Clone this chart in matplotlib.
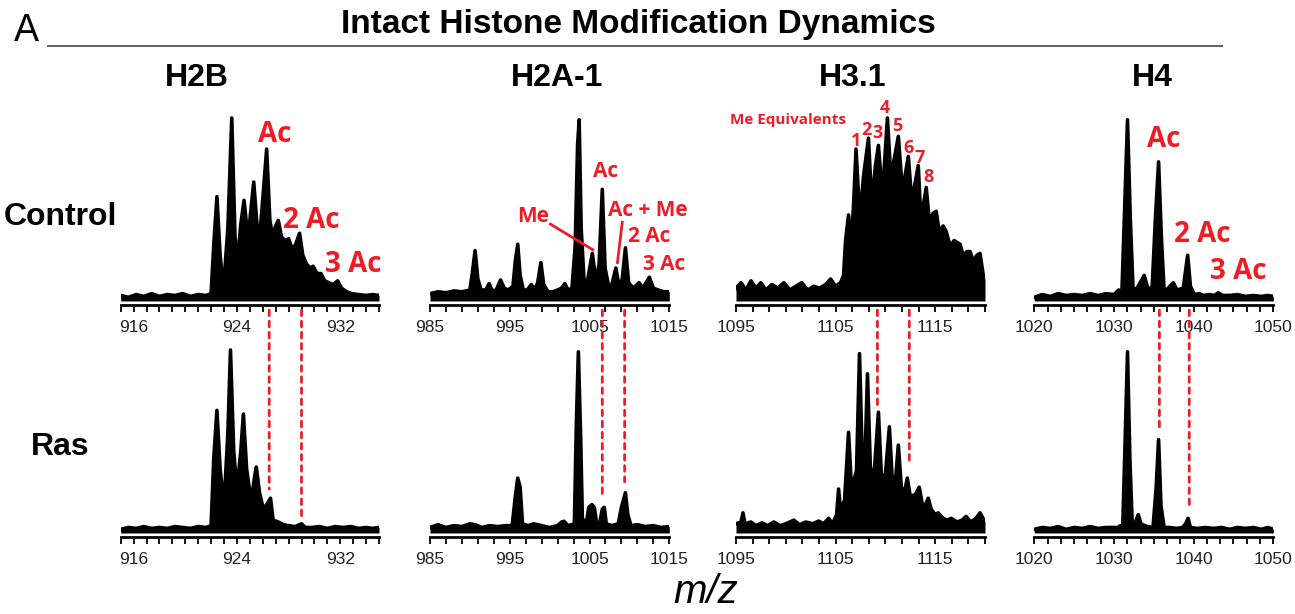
import numpy as np
import matplotlib.pyplot as plt
from matplotlib.patches import ConnectionPatch

# spectra: (m/z, relative intensity) vertices
h2b_ctrl_mz = [915.0, 915.6, 916.2, 916.8, 917.4, 918.0, 918.6, 919.2, 919.8, 920.4, 921.0, 921.6,
               922.0, 922.2, 922.45, 922.7, 922.95, 923.3, 923.6, 923.85, 924.05, 924.3, 924.55,
               924.8, 925.0, 925.3, 925.55, 925.75, 926.05, 926.3, 926.55, 926.75, 927.0, 927.2,
               927.45, 927.75, 928.0, 928.3, 928.55, 928.85, 929.1, 929.4, 929.7, 929.9, 930.2,
               930.5, 930.8, 931.1, 931.45, 931.8, 932.1, 932.5, 932.9, 933.4, 934.0, 934.5, 935.0]
h2b_ctrl_int = [0.03, 0.02, 0.035, 0.025, 0.04, 0.025, 0.035, 0.03, 0.04, 0.025, 0.035, 0.03,
                0.04, 0.30, 0.57, 0.25, 0.06, 0.40, 1.00, 0.35, 0.22, 0.42, 0.55,
                0.38, 0.44, 0.65, 0.42, 0.34, 0.60, 0.83, 0.44, 0.36, 0.41, 0.44,
                0.35, 0.33, 0.34, 0.28, 0.31, 0.37, 0.25, 0.20, 0.18, 0.19, 0.15,
                0.15, 0.11, 0.10, 0.09, 0.11, 0.07, 0.05, 0.04, 0.035, 0.03, 0.035, 0.03]

h2b_ras_mz = [915.0, 915.6, 916.2, 916.8, 917.4, 918.0, 918.6, 919.2, 919.8, 920.4, 921.0, 921.6,
              922.0, 922.2, 922.45, 922.7, 923.0, 923.3, 923.5, 923.75, 924.0, 924.3, 924.5,
              924.75, 925.1, 925.35, 925.5, 925.75, 926.05, 926.35, 926.6, 926.8, 927.2, 927.6,
              928.0, 928.5, 929.0, 929.3, 929.8, 930.4, 931.0, 931.6, 932.2, 932.8, 933.4,
              934.0, 934.5, 935.0]
h2b_ras_int = [0.02, 0.03, 0.025, 0.035, 0.025, 0.03, 0.025, 0.035, 0.03, 0.025, 0.035, 0.03,
               0.04, 0.40, 0.67, 0.35, 0.15, 0.55, 1.00, 0.45, 0.23, 0.45, 0.65,
               0.35, 0.17, 0.30, 0.36, 0.22, 0.13, 0.16, 0.19, 0.07, 0.06, 0.045,
               0.04, 0.035, 0.05, 0.03, 0.03, 0.035, 0.025, 0.035, 0.03, 0.035, 0.025,
               0.03, 0.025, 0.03]

h2a_ctrl_mz = [985.0, 986.0, 987.0, 988.0, 989.0, 990.0, 990.3, 990.65, 991.0, 991.4, 992.0, 992.4,
               992.8, 993.3, 993.85, 994.3, 994.8, 995.4, 995.7, 996.0, 996.3, 996.7, 997.2,
               997.7, 998.1, 998.5, 998.9, 999.25, 999.8, 1000.4, 1001.0, 1001.5, 1001.9, 1002.3,
               1002.8, 1003.2, 1003.5, 1003.7, 1003.95, 1004.3, 1004.7, 1005.35, 1005.8, 1006.2,
               1006.6, 1006.95, 1007.4, 1007.8, 1008.3, 1008.7, 1009.1, 1009.5, 1009.9, 1010.5,
               1011.2, 1011.7, 1012.5, 1013.0, 1013.6, 1014.3, 1015.0]
h2a_ctrl_int = [0.04, 0.05, 0.045, 0.055, 0.05, 0.06, 0.15, 0.275, 0.12, 0.06, 0.06, 0.095,
                0.055, 0.06, 0.115, 0.07, 0.06, 0.08, 0.22, 0.31, 0.14, 0.06, 0.06,
                0.09, 0.06, 0.10, 0.21, 0.09, 0.05, 0.05, 0.06, 0.07, 0.095, 0.06,
                0.07, 0.30, 0.85, 0.99, 0.40, 0.12, 0.10, 0.26, 0.11, 0.20,
                0.61, 0.18, 0.08, 0.09, 0.18, 0.08, 0.12, 0.29, 0.10, 0.07,
                0.10, 0.07, 0.13, 0.07, 0.06, 0.05, 0.05]

h2a_ras_mz = [985.0, 986.0, 987.0, 988.0, 989.0, 990.0, 990.7, 991.5, 992.5, 993.5, 994.5, 995.3,
              995.7, 996.0, 996.3, 996.6, 997.3, 998.0, 999.0, 1000.0, 1001.0, 1001.5, 1001.8,
              1002.3, 1003.1, 1003.35, 1003.6, 1003.9, 1004.1, 1004.6, 1004.9, 1005.3, 1005.6,
              1005.9, 1006.3, 1006.6, 1006.85, 1007.1, 1007.8, 1008.6, 1009.0, 1009.5, 1009.8,
              1010.2, 1011.0, 1012.0, 1013.0, 1014.0, 1015.0]
h2a_ras_int = [0.03, 0.045, 0.03, 0.04, 0.035, 0.05, 0.045, 0.03, 0.04, 0.035, 0.04, 0.04,
               0.20, 0.30, 0.25, 0.05, 0.04, 0.05, 0.04, 0.03, 0.04, 0.06, 0.064,
               0.04, 0.05, 0.60, 0.99, 0.50, 0.08, 0.05, 0.14, 0.155, 0.14,
               0.05, 0.06, 0.13, 0.14, 0.05, 0.04, 0.05, 0.14, 0.22, 0.10,
               0.04, 0.045, 0.035, 0.04, 0.03, 0.035]

h31_ctrl_mz = [1095.0, 1095.5, 1096.0, 1096.5, 1097.0, 1097.5, 1098.0, 1098.6, 1099.2, 1099.8,
               1100.4, 1101.0, 1101.6, 1102.2, 1102.8, 1103.4, 1104.0, 1104.5, 1105.0, 1105.5,
               1105.8, 1106.0, 1106.3, 1106.55, 1106.8, 1107.05, 1107.3, 1107.55, 1107.8, 1108.3,
               1108.55, 1108.8, 1109.0, 1109.3, 1109.6, 1109.85, 1110.2, 1110.5, 1110.8, 1111.3,
               1111.6, 1111.9, 1112.3, 1112.6, 1112.9, 1113.3, 1113.55, 1113.8, 1114.1, 1114.4,
               1114.8, 1115.1, 1115.4, 1115.8, 1116.1, 1116.5, 1116.9, 1117.5, 1117.8, 1118.2,
               1118.5, 1118.8, 1119.2, 1119.5, 1119.8, 1120.0]
h31_ctrl_int = [0.07, 0.10, 0.06, 0.11, 0.07, 0.10, 0.06, 0.09, 0.07, 0.10,
                0.06, 0.08, 0.10, 0.06, 0.08, 0.07, 0.09, 0.12, 0.08, 0.10,
                0.14, 0.33, 0.47, 0.30, 0.52, 0.83, 0.58, 0.52, 0.68, 0.89,
                0.62, 0.62, 0.74, 0.85, 0.64, 0.70, 1.00, 0.72, 0.75, 0.90,
                0.68, 0.66, 0.79, 0.58, 0.62, 0.74, 0.46, 0.52, 0.62, 0.44,
                0.48, 0.49, 0.38, 0.41, 0.38, 0.30, 0.33, 0.31, 0.25, 0.27,
                0.27, 0.22, 0.25, 0.26, 0.15, 0.12]

h31_ras_mz = [1095.0, 1095.5, 1095.7, 1095.9, 1096.5, 1097.0, 1097.6, 1098.2, 1098.8, 1099.4,
              1100.0, 1100.8, 1101.4, 1102.0, 1102.7, 1103.3, 1103.8, 1104.3, 1104.7, 1105.1,
              1105.3, 1105.5, 1105.9, 1106.3, 1106.6, 1107.1, 1107.4, 1107.7, 1107.95, 1108.2,
              1108.5, 1108.9, 1109.3, 1109.6, 1110.0, 1110.4, 1110.7, 1111.0, 1111.3, 1111.6,
              1111.9, 1112.2, 1112.5, 1113.0, 1113.4, 1113.7, 1114.0, 1114.3, 1114.6, 1115.0,
              1115.3, 1115.8, 1116.2, 1116.6, 1117.2, 1117.7, 1118.1, 1118.6, 1119.1, 1119.5,
              1120.0]
h31_ras_int = [0.05, 0.06, 0.11, 0.05, 0.06, 0.04, 0.055, 0.04, 0.06, 0.04,
               0.05, 0.07, 0.045, 0.06, 0.05, 0.065, 0.05, 0.08, 0.05, 0.10,
               0.24, 0.12, 0.18, 0.55, 0.24, 0.34, 0.98, 0.36, 0.40, 0.87,
               0.34, 0.35, 0.66, 0.31, 0.32, 0.58, 0.28, 0.28, 0.48, 0.25,
               0.22, 0.30, 0.20, 0.21, 0.25, 0.16, 0.15, 0.19, 0.13, 0.10,
               0.11, 0.08, 0.07, 0.08, 0.06, 0.07, 0.09, 0.06, 0.08, 0.11,
               0.06]

h4_ctrl_mz = [1020.0, 1021.0, 1022.0, 1023.0, 1024.0, 1025.0, 1026.0, 1027.0, 1028.0, 1029.0,
              1030.0, 1030.6, 1031.0, 1031.3, 1031.7, 1032.05, 1032.4, 1032.9, 1033.8, 1034.3,
              1034.8, 1035.2, 1035.6, 1035.95, 1036.3, 1036.8, 1037.45, 1037.9, 1038.7, 1039.25,
              1039.6, 1040.1, 1040.7, 1041.2, 1042.0, 1042.6, 1043.1, 1043.6, 1044.5, 1045.5,
              1046.5, 1047.5, 1048.5, 1049.3, 1050.0]
h4_ctrl_int = [0.02, 0.035, 0.025, 0.04, 0.03, 0.035, 0.03, 0.04, 0.03, 0.04,
               0.035, 0.06, 0.05, 0.45, 0.99, 0.45, 0.06, 0.07, 0.14, 0.06,
               0.08, 0.45, 0.76, 0.35, 0.05, 0.07, 0.10, 0.06, 0.07, 0.25,
               0.08, 0.035, 0.04, 0.03, 0.035, 0.03, 0.045, 0.03, 0.03, 0.035,
               0.025, 0.03, 0.025, 0.03, 0.025]

h4_ras_mz = [1020.0, 1021.0, 1022.0, 1023.0, 1024.0, 1025.0, 1026.0, 1027.0, 1028.0, 1029.0,
             1030.0, 1030.5, 1030.8, 1031.1, 1031.4, 1031.7, 1032.0, 1032.3, 1032.7, 1033.05,
             1033.4, 1034.1, 1034.9, 1035.3, 1035.6, 1035.9, 1036.3, 1037.0, 1037.8, 1038.6,
             1039.0, 1039.3, 1039.6, 1040.5, 1041.5, 1042.5, 1043.5, 1044.5, 1045.5, 1046.5,
             1047.5, 1048.5, 1049.3, 1050.0]
h4_ras_int = [0.02, 0.03, 0.025, 0.035, 0.02, 0.03, 0.025, 0.035, 0.025, 0.03,
              0.03, 0.03, 0.04, 0.03, 0.50, 0.99, 0.40, 0.04, 0.06, 0.10,
              0.05, 0.036, 0.03, 0.25, 0.51, 0.15, 0.03, 0.03, 0.025, 0.03,
              0.05, 0.08, 0.03, 0.025, 0.03, 0.025, 0.03, 0.02, 0.03, 0.025,
              0.03, 0.02, 0.03, 0.02]

histones = ['H2B', 'H2A-1', 'H3.1', 'H4']
conditions = ['Control', 'Ras']
xlims = [(915, 935), (985, 1015), (1095, 1120), (1020, 1050)]
tick_labels = [[916, 924, 932], [985, 995, 1005, 1015], [1095, 1105, 1115], [1020, 1030, 1040, 1050]]
minor_step = [1.0, 2.0, 5 / 3, 5 / 3]
spectra = [
    [(h2b_ctrl_mz, h2b_ctrl_int), (h2b_ras_mz, h2b_ras_int)],
    [(h2a_ctrl_mz, h2a_ctrl_int), (h2a_ras_mz, h2a_ras_int)],
    [(h31_ctrl_mz, h31_ctrl_int), (h31_ras_mz, h31_ras_int)],
    [(h4_ctrl_mz, h4_ctrl_int), (h4_ras_mz, h4_ras_int)],
]
# dashed guides: m/z and where they stop on the Ras trace
guide_mz = [[926.5, 929.0], [1006.6, 1009.4], [1109.2, 1112.4], [1035.7, 1039.45]]
guide_end = [[0.24, 0.065], [0.20, 0.28], [0.70, 0.37], [0.57, 0.13]]

RED = '#ee1c25'
W, H = 1295, 614

plt.rcParams['font.family'] = ['Liberation Sans', 'DejaVu Sans']

fig = plt.figure(figsize=(W / 100, H / 100), dpi=100)

def px(x, y):
    return x / W, 1 - y / H

# axes boxes in pixels: left, width ; rows: top, bottom
col_px = [(120.7, 258.3), (430, 239.3), (736, 249), (1034.3, 239)]
row_px = [(99.7, 305), (331.7, 537)]

axes = [[None] * 4 for _ in range(2)]
for r in range(2):
    for c in range(4):
        l, w = col_px[c]
        t, b = row_px[r]
        ax = fig.add_axes([l / W, 1 - b / H, w / W, (b - t) / H])
        mz, inten = spectra[c][r]
        ax.fill_between(mz, inten, 0, color='black', lw=0)
        ax.plot(mz, inten, color='black', lw=2.6, solid_joinstyle='round')
        ax.set_xlim(*xlims[c])
        ax.set_ylim(-0.022, 1.1)
        for s in ['top', 'right', 'left']:
            ax.spines[s].set_visible(False)
        ax.spines['bottom'].set_linewidth(2)
        ax.set_yticks([])
        ax.set_xticks(tick_labels[c])
        ax.set_xticklabels([str(v) for v in tick_labels[c]], fontsize=12.5, color='#222222')
        ax.set_xticks(np.arange(xlims[c][0], xlims[c][1] + 0.01, minor_step[c]), minor=True)
        ax.tick_params(axis='x', which='both', length=5, width=1.3, direction='out', pad=6)
        ax.patch.set_alpha(0)
        axes[r][c] = ax

# dashed red guides between the two rows
for c in range(4):
    for m, e in zip(guide_mz[c], guide_end[c]):
        con = ConnectionPatch(xyA=(m, -0.05), coordsA=axes[0][c].transData,
                              xyB=(m, e), coordsB=axes[1][c].transData,
                              color=RED, lw=2, linestyle=(0, (2, 2)))
        fig.add_artist(con)

# red peak annotations
red_font = dict(color=RED, fontweight='bold', family=['Open Sans', 'DejaVu Sans'],
                ha='center', va='center', clip_on=False)
a = axes[0][0]
a.text(926.9, 0.91, 'Ac', fontsize=20, **red_font)
a.text(929.74, 0.44, '2 Ac', fontsize=20, **red_font)
a.text(933.0, 0.20, '3 Ac', fontsize=20, **red_font)

a = axes[0][1]
a.text(1006.96, 0.705, 'Ac', fontsize=15, **red_font)
a.text(1012.3, 0.497, 'Ac + Me', fontsize=15, **red_font)
a.text(1012.5, 0.355, '2 Ac', fontsize=15, **red_font)
a.text(1014.4, 0.20, '3 Ac', fontsize=15, **red_font)
a.text(997.86, 0.46, 'Me', fontsize=15, **red_font)
a.plot([1000.1, 1005.4], [0.42, 0.28], color=RED, lw=2, clip_on=False)
a.plot([1009.1, 1008.5], [0.43, 0.21], color=RED, lw=2, clip_on=False)

a = axes[0][2]
a.text(1100.25, 0.987, 'Me Equivalents', fontsize=11, **red_font)
me_num_mz = [1107.05, 1108.12, 1109.19, 1109.96, 1111.23, 1112.30, 1113.40, 1114.31]
me_num_h = [0.873, 0.937, 0.919, 1.053, 0.956, 0.838, 0.783, 0.677]
for i, (m, hh) in enumerate(zip(me_num_mz, me_num_h)):
    a.text(m, hh, str(i + 1), fontsize=13, **red_font)

a = axes[0][3]
a.text(1036.27, 0.88, 'Ac', fontsize=20, **red_font)
a.text(1041.1, 0.363, '2 Ac', fontsize=20, **red_font)
a.text(1045.65, 0.16, '3 Ac', fontsize=20, **red_font)

# column / row labels
col_x = [197, 557, 853, 1152]
for name, x in zip(histones, col_x):
    fig.text(*px(x, 78), name, fontsize=23, fontweight='bold', ha='center', va='center')
for name, y in zip(conditions, [217, 447]):
    fig.text(*px(60, y), name, fontsize=23, fontweight='bold', ha='center', va='center')

fig.text(*px(638, 24), 'Intact Histone Modification Dynamics', fontsize=24,
         fontweight='bold', ha='center', va='center')
fig.add_artist(plt.Line2D([48 / W, 1222 / W], [1 - 46 / H, 1 - 46 / H], color='#666666', lw=1.5))
fig.text(*px(26, 31), 'A', fontsize=27, ha='center', va='center')
fig.text(*px(706, 592), 'm/z', fontsize=29, style='italic', ha='center', va='center')

fig.savefig('out.png', dpi=100)
